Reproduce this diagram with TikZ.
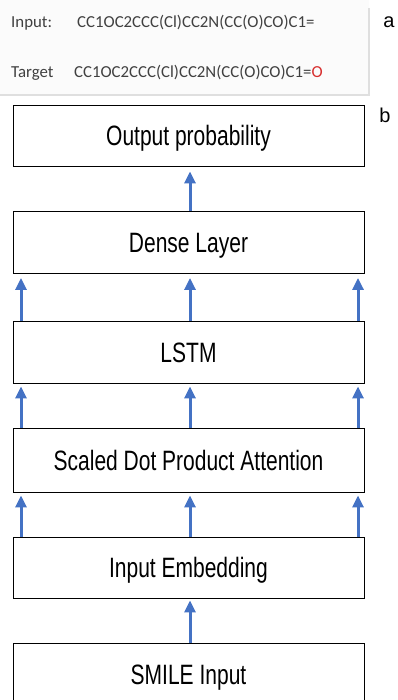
\documentclass[tikz,border=0pt]{standalone}
\usepackage{fontspec}
\setmainfont{Liberation Sans}
\newfontfamily\boxfont[FakeStretch=0.75]{Liberation Sans}
\newfontfamily\calfont{Carlito}
\usetikzlibrary{arrows.meta}
\definecolor{arrblue}{RGB}{68,114,196}
\definecolor{codegray}{RGB}{64,64,64}
\definecolor{codered}{RGB}{215,45,45}
\tikzset{
  layer/.style={draw=black, line width=0.9pt, fill=white, minimum width=351pt, inner sep=0pt,
    font=\boxfont\fontsize{28}{30}\selectfont, text height=20pt, text depth=0pt},
  arr/.style={draw=arrblue, line width=3pt, -{Triangle[width=11pt,length=12pt]}},
  codetxt/.style={font=\calfont\fontsize{16.8}{19}\selectfont, text=codegray, inner sep=0pt, anchor=base west},
  panellbl/.style={font=\fontsize{20}{22}\selectfont, inner sep=0pt}
}
\begin{document}
\begin{tikzpicture}[x=1pt,y=-1pt]
\clip (0,0) rectangle (398,700);
% panel a
\fill[gray!3] (0,0) rectangle (369,95);
\draw[gray!25, line width=1.5pt] (369,8) -- (369,95) -- (0,95);
\node[codetxt] (inlbl) at (11,28) {Input:};
\node[codetxt] (incode) at (77,28) {CC1OC2CCC(Cl)CC2N(CC(O)CO)C1=};
\node[codetxt] (tglbl) at (11,78) {Target};
\node[codetxt] (tgcode) at (74,78) {CC1OC2CCC(Cl)CC2N(CC(O)CO)C1=\textcolor{codered}{O}};
\node[panellbl] (la) at (389,22) {a};
\node[panellbl] (lb) at (385,115) {b};
% layers
\node[layer, minimum height=61pt] (out) at (188.5,135.5) {Output probability};
\node[layer, minimum height=62pt] (dense) at (188.5,242.5) {Dense Layer};
\node[layer, minimum height=62pt] (lstm) at (188.5,352) {LSTM};
\node[layer, minimum height=64pt] (sdpa) at (188.5,460) {Scaled Dot Product Attention};
\node[layer, minimum height=61pt] (emb) at (188.5,567.5) {Input Embedding};
\node[layer, minimum height=62pt] (smile) at (188.5,674) {SMILE Input};
% arrow columns
\coordinate (xL) at (21,0);
\coordinate (xC) at (190,0);
\coordinate (xR) at (358,0);
\draw[arr, shorten >=5pt] (dense.north -| xC) -- (out.south -| xC);
\foreach \c in {xL,xC,xR}{
  \draw[arr, shorten >=4pt] (lstm.north -| \c) -- (dense.south -| \c);
  \draw[arr, shorten >=3pt] (sdpa.north -| \c) -- (lstm.south -| \c);
  \draw[arr, shorten >=3pt] (emb.north -| \c) -- (sdpa.south -| \c);
}
\draw[arr, shorten >=2pt] (smile.north -| xC) -- (emb.south -| xC);
\end{tikzpicture}
\end{document}
